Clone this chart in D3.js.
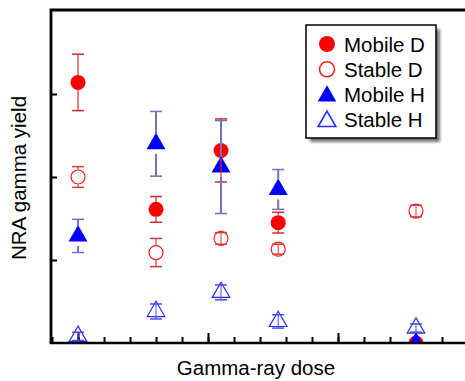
<!DOCTYPE html>
<html>
<head>
<meta charset="utf-8">
<script src="https://cdn.jsdelivr.net/npm/d3@7"></script>
<style>
  body { margin: 0; background: #fff; }
  text { font-family: "Liberation Sans", Arial, sans-serif; fill: #000; }
</style>
</head>
<body>
<svg width="465" height="381"></svg>
<script>
/* values, y in arbitrary units (no tick labels) */
var doses = [0, 3, 5.5, 7.7, 13];
var mobileD = [3.14, 1.61, 2.32, 1.45, 0];
var mobileDErr = [0.34, 0.155, 0.38, 0.125, 0];
var stableD = [2.0, 1.09, 1.26, 1.13, 1.59];
var stableDErr = [0.125, 0.17, 0.07, 0.06, 0.07];
var mobileH = [1.29, 2.4, 2.12, 1.85, 0];
var mobileHErr = [0.2, 0.39, 0.56, 0.24, 0];
var stableH = [0.08, 0.38, 0.61, 0.26, 0.18];
var stableHErr = [0.05, 0.09, 0.09, 0.08, 0.05];
var seriesNames = ["Mobile D", "Stable D", "Mobile H", "Stable H"];
var yTicks = [1, 2, 3];
var xMajor = [0, 5, 10, 15];

var svg = d3.select("svg");
var mLeft = 51, mRight = 475, mTop = 10, mBottom = 343;

var x = d3.scaleLinear().domain([-1.04, 15.27]).range([mLeft, mRight]);
var y = d3.scaleLinear().domain([0, 4.012]).range([mBottom, mTop]);

var defs = svg.append("defs");
defs.append("clipPath").attr("id", "plot")
  .append("rect").attr("x", mLeft).attr("y", mTop).attr("width", mRight - mLeft).attr("height", mBottom - mTop);
var shadow = defs.append("filter").attr("id", "blur")
  .attr("x", "-20%").attr("y", "-20%").attr("width", "140%").attr("height", "140%");
shadow.append("feGaussianBlur").attr("stdDeviation", 1.8);

// ticks (inward)
var minorAxis = d3.axisBottom(x).ticks(16).tickSize(-6).tickSizeOuter(0).tickFormat("");
var majorAxis = d3.axisBottom(x).tickValues(xMajor).tickSize(-10).tickSizeOuter(0).tickFormat("");
var yAxis = d3.axisLeft(y).tickValues(yTicks).tickSize(-6).tickSizeOuter(0).tickFormat("");

[minorAxis, majorAxis].forEach(function(a){
  var g = svg.append("g").attr("transform", "translate(0," + mBottom + ")").call(a);
  g.select(".domain").remove();
  g.selectAll("line").attr("stroke", "#000").attr("stroke-width", 2);
});
var gy = svg.append("g").attr("transform", "translate(" + mLeft + ",0)").call(yAxis);
gy.select(".domain").remove();
gy.selectAll("line").attr("stroke", "#000").attr("stroke-width", 2);

var plot = svg.append("g").attr("clip-path", "url(#plot)");

var circle = d3.symbol().type(d3.symbolCircle).size(Math.PI * 7.5 * 7.5);
var tri = d3.symbol().type(d3.symbolTriangle).size(156);
var triOpen = d3.symbol().type(d3.symbolTriangle).size(135);

function markers(vals, path, fill, stroke) {
  plot.selectAll(null).data(vals).enter().append("path")
    .attr("d", path)
    .attr("transform", function(d, i){ return "translate(" + x(doses[i]) + "," + y(d) + ")"; })
    .attr("fill", fill)
    .attr("stroke", stroke)
    .attr("stroke-width", 1.2);
}

markers(mobileD, circle, "#ff0000", "none");
markers(stableD, d3.symbol().type(d3.symbolCircle).size(Math.PI * 7 * 7), "none", "#ff1a1a");
markers(mobileH, tri, "#0000ff", "none");
markers(stableH, triOpen, "none", "#2a2aff");

function errbars(vals, errs, gap, color, width) {
  vals.forEach(function(v, i){
    if (errs[i] <= 0) return;
    var cx = x(doses[i]), cy = y(v);
    var y0 = y(v + errs[i]), y1 = y(v - errs[i]);
    var g = plot.append("g").attr("stroke", color).attr("stroke-width", width).attr("fill", "none");
    if (cy - y0 > gap) {
      g.append("line").attr("x1", cx).attr("x2", cx).attr("y1", y0).attr("y2", cy - gap);
      g.append("line").attr("x1", cx).attr("x2", cx).attr("y1", cy + gap).attr("y2", y1);
    } else {
      g.append("line").attr("x1", cx).attr("x2", cx).attr("y1", y0).attr("y2", y1).attr("stroke-width", 1);
    }
    [y0, y1].forEach(function(yy){
      g.append("line").attr("x1", cx - 6).attr("x2", cx + 6).attr("y1", yy).attr("y2", yy)
        .attr("stroke-width", 1.5);
    });
  });
}

errbars(mobileD, mobileDErr, 7.5, "#d22a2a", 1.2);
errbars(stableD, stableDErr, 7.5, "#cc4040", 1.2);
errbars(mobileH, mobileHErr, 10, "#7272bd", 2);
errbars(stableH, stableHErr, 10, "#4a4aee", 1);

// frame
svg.append("path")
  .attr("d", "M" + mLeft + "," + mBottom + "V" + mTop + "H" + 470)
  .attr("fill", "none").attr("stroke", "#000").attr("stroke-width", 2.8);
svg.append("line").attr("x1", mLeft - 1.4).attr("x2", 470).attr("y1", mBottom).attr("y2", mBottom)
  .attr("stroke", "#000").attr("stroke-width", 2.6);

// axis titles
svg.append("text").attr("x", 256).attr("y", 375).attr("text-anchor", "middle")
  .style("font-size", "20.5px").text("Gamma-ray dose");
svg.append("text").attr("transform", "translate(26,178) rotate(-90)").attr("text-anchor", "middle")
  .style("font-size", "20.5px").text("NRA gamma yield");

// legend
var lg = svg.append("g");
lg.append("rect").attr("x", 310).attr("y", 29).attr("width", 130).attr("height", 113)
  .attr("fill", "#777").attr("filter", "url(#blur)");
lg.append("rect").attr("x", 306).attr("y", 25).attr("width", 130).attr("height", 113)
  .attr("fill", "#fff").attr("stroke", "#000").attr("stroke-width", 1.5);
var legendSyms = [
  {p: d3.symbol().type(d3.symbolCircle).size(Math.PI * 64)(), fill: "#ff0000", stroke: "none"},
  {p: d3.symbol().type(d3.symbolCircle).size(Math.PI * 56)(), fill: "none", stroke: "#ff1a1a"},
  {p: d3.symbol().type(d3.symbolTriangle).size(150)(), fill: "#0000ff", stroke: "none"},
  {p: d3.symbol().type(d3.symbolTriangle).size(135)(), fill: "none", stroke: "#2a2aff"}
];
seriesNames.forEach(function(name, i){
  var yy = 44 + i * 25.3;
  lg.append("path").attr("d", legendSyms[i].p)
    .attr("transform", "translate(327," + (i >= 2 ? yy + 1.5 : yy) + ")")
    .attr("fill", legendSyms[i].fill).attr("stroke", legendSyms[i].stroke).attr("stroke-width", 1.6);
  lg.append("text").attr("x", 344).attr("y", yy + 7.5).style("font-size", "20.5px").text(name);
});
</script>
</body>
</html>
